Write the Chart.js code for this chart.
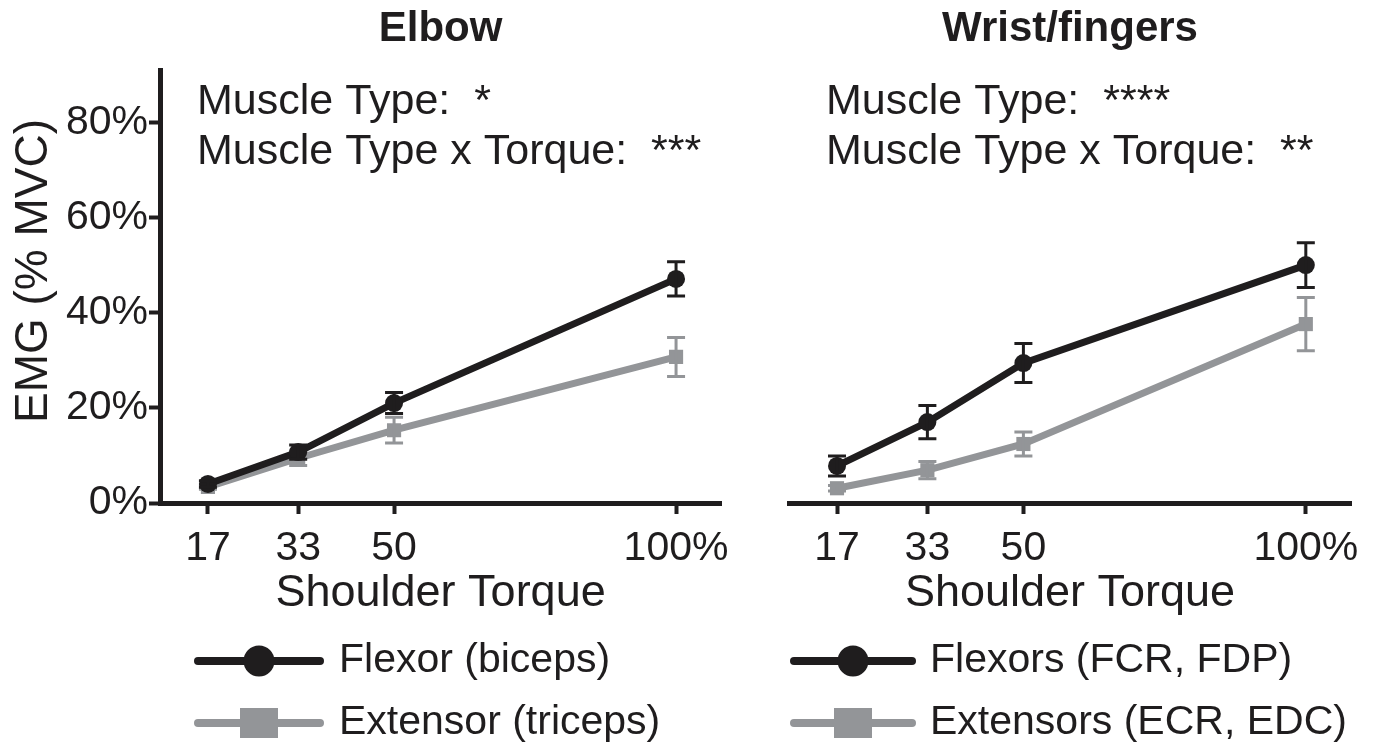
<!DOCTYPE html>
<html>
<head>
<meta charset="utf-8">
<title>EMG vs shoulder torque</title>
<script src="https://cdn.jsdelivr.net/npm/chart.js@4.4.1/dist/chart.umd.min.js"></script>
<style>
  html, body { margin: 0; padding: 0; background: #ffffff; overflow: hidden; }
  #wrap { position: relative; width: 1376px; height: 747px; }
  canvas { position: absolute; top: 0; }
  #elbow { left: 0; }
  #wrist { left: 740px; }
</style>
</head>
<body>
<div id="wrap">
  <canvas id="elbow" width="740" height="747"></canvas>
  <canvas id="wrist" width="636" height="747"></canvas>
</div>
<script>
// Shoulder torque levels (% of max) and their axis labels
const torque = [17, 33, 50, 100];
const torqueLabels = ['17', '33', '50', '100%'];
const emgTicks = [0, 20, 40, 60, 80];

// Elbow muscles: mean EMG (% MVC) and SEM
const elbowFlexor = [4.0, 10.7, 21.0, 47.1];
const elbowFlexorSem = [0.7, 1.5, 2.2, 3.6];
const elbowExtensor = [3.4, 9.4, 15.3, 30.7];
const elbowExtensorSem = [0.5, 1.5, 2.7, 4.1];

// Wrist/finger muscles: mean EMG (% MVC) and SEM
const wristFlexors = [7.8, 17.0, 29.4, 50.0];
const wristFlexorsSem = [2.1, 3.5, 4.1, 4.7];
const wristExtensors = [3.1, 6.9, 12.4, 37.6];
const wristExtensorsSem = [0.6, 1.8, 2.5, 5.6];

// Series names and statistics lines
const elbowNames = ['Flexor (biceps)', 'Extensor (triceps)'];
const wristNames = ['Flexors (FCR, FDP)', 'Extensors (ECR, EDC)'];
const elbowStats = ['Muscle Type:  *', 'Muscle Type x Torque:  ***'];
const wristStats = ['Muscle Type:  ****', 'Muscle Type x Torque:  **'];
const emgTitle = 'EMG (% MVC)';

const INK = '#1f1d1e';
const GREY = '#939598';
const FAMILY = "'Liberation Sans', Arial, Helvetica, sans-serif";
Chart.defaults.font.family = FAMILY;
Chart.defaults.color = INK;

const toPoints = vals => vals.map((v, i) => ({ x: torque[i], y: v }));

// Vertical SEM whiskers with caps, drawn right after each series
const errorBars = {
  id: 'errorBars',
  afterDatasetDraw(chart, args, opts) {
    const ds = chart.data.datasets[args.index];
    if (!ds.sem) return;
    const y = chart.scales.y;
    const ctx = chart.ctx;
    ctx.save();
    ctx.strokeStyle = ds.borderColor;
    ctx.lineWidth = opts.width;
    ctx.lineCap = 'butt';
    args.meta.data.forEach((pt, i) => {
      const v = ds.data[i].y, e = ds.sem[i];
      const yHi = y.getPixelForValue(v + e);
      const yLo = y.getPixelForValue(v - e);
      ctx.beginPath();
      ctx.moveTo(pt.x, yHi); ctx.lineTo(pt.x, yLo);
      ctx.moveTo(pt.x - opts.cap, yHi); ctx.lineTo(pt.x + opts.cap, yHi);
      ctx.moveTo(pt.x - opts.cap, yLo); ctx.lineTo(pt.x + opts.cap, yLo);
      ctx.stroke();
    });
    ctx.restore();
  }
};

// ANOVA result lines in the upper-left of each panel, plus the rotated y caption
const statsText = {
  id: 'statsText',
  afterDraw(chart, args, opts) {
    const ctx = chart.ctx;
    ctx.save();
    ctx.fillStyle = INK;
    ctx.font = opts.size + 'px ' + FAMILY;
    ctx.textAlign = 'left';
    ctx.textBaseline = 'alphabetic';
    opts.lines.forEach((t, i) => {
      ctx.fillText(t, chart.chartArea.left + opts.dx, opts.baselines[i]);
    });
    if (opts.yCaption) {
      const c = opts.yCaption;
      ctx.translate(c.x, c.y);
      ctx.rotate(-Math.PI / 2);
      ctx.font = c.size + 'px ' + FAMILY;
      ctx.textAlign = 'center';
      ctx.textBaseline = 'middle';
      ctx.fillText(c.text, 0, 0);
    }
    ctx.restore();
  }
};

// Legend below each panel: line sample with its marker, then the series name
const sampleLegend = {
  id: 'sampleLegend',
  afterDraw(chart, args, o) {
    const ctx = chart.ctx;
    chart.data.datasets.forEach((ds, i) => {
      const y = o.rows[i];
      const cx = (o.x0 + o.x1) / 2;
      ctx.save();
      ctx.strokeStyle = ds.borderColor;
      ctx.fillStyle = ds.borderColor;
      ctx.lineWidth = o.lineWidth;
      ctx.lineCap = 'round';
      ctx.beginPath();
      ctx.moveTo(o.x0, y); ctx.lineTo(o.x1, y);
      ctx.stroke();
      if (ds.pointStyle === 'rect') {
        ctx.fillRect(cx - o.rectW / 2, y - o.rectH / 2, o.rectW, o.rectH);
      } else {
        ctx.beginPath();
        ctx.arc(cx, y, o.radius, 0, Math.PI * 2);
        ctx.fill();
      }
      ctx.fillStyle = INK;
      ctx.font = o.size + 'px ' + FAMILY;
      ctx.textAlign = 'left';
      ctx.textBaseline = 'middle';
      ctx.fillText(ds.label, o.textX, y);
      ctx.restore();
    });
  }
};

function makePanel(id, cfg) {
  return new Chart(document.getElementById(id), {
    type: 'line',
    data: {
      datasets: [
        {
          label: cfg.names[0], data: toPoints(cfg.flex), sem: cfg.flexSem,
          borderColor: INK, backgroundColor: INK, borderWidth: 7,
          pointStyle: 'circle', pointRadius: 9, pointBorderWidth: 0,
          pointBackgroundColor: INK, tension: 0
        },
        {
          label: cfg.names[1], data: toPoints(cfg.ext), sem: cfg.extSem,
          borderColor: GREY, backgroundColor: GREY, borderWidth: 7,
          pointStyle: 'rect', pointRadius: 10, pointBorderWidth: 0,
          pointBackgroundColor: GREY, tension: 0
        }
      ]
    },
    options: {
      responsive: false,
      animation: false,
      events: [],
      layout: { padding: { left: cfg.padLeft, right: cfg.padRight, top: 0, bottom: 126 } },
      plugins: {
        legend: { display: false },
        tooltip: { enabled: false },
        title: {
          display: true, text: cfg.title, fullSize: false, color: INK,
          font: { size: 42, weight: 'bold', lineHeight: 1.2 },
          padding: { top: 4, bottom: 15.6 }
        },
        errorBars: { width: 3, cap: 9 },
        statsText: { lines: cfg.stats, dx: 37, baselines: [114, 164], size: 43, yCaption: cfg.yCaption },
        sampleLegend: cfg.legend
      },
      scales: {
        x: {
          type: 'linear', min: 8.5, max: 108,
          afterBuildTicks: s => { s.ticks = torque.map(v => ({ value: v })); },
          afterFit: s => { s.height = 118; },
          ticks: {
            callback: v => torqueLabels[torque.indexOf(v)],
            color: INK, font: { size: 41 }, padding: 10,
            maxRotation: 0, autoSkip: false
          },
          grid: { display: true, drawOnChartArea: false, drawTicks: true, tickLength: 11, tickWidth: 4, tickColor: INK },
          border: { display: true, color: INK, width: 5 },
          title: {
            display: true, text: 'Shoulder Torque', color: INK,
            font: { size: 45, lineHeight: 1.2 }, padding: { top: 0, bottom: 0 }
          }
        },
        y: {
          display: cfg.showY, min: 0, max: 91,
          afterBuildTicks: s => { s.ticks = emgTicks.map(v => ({ value: v })); },
          afterFit: s => { s.width = cfg.showY ? 160 : 0; },
          ticks: { callback: v => v + '%', color: INK, font: { size: 41 }, padding: 1 },
          grid: { display: true, drawOnChartArea: false, drawTicks: true, tickLength: 11, tickWidth: 4, tickColor: INK },
          border: { display: true, color: INK, width: 5 }
        }
      }
    },
    plugins: [errorBars, statsText, sampleLegend]
  });
}

makePanel('elbow', {
  title: 'Elbow', names: elbowNames, stats: elbowStats,
  flex: elbowFlexor, flexSem: elbowFlexorSem,
  ext: elbowExtensor, extSem: elbowExtensorSem,
  showY: true, padLeft: 0, padRight: 16,
  yCaption: { text: emgTitle, x: 34, y: 271, size: 46 },
  legend: { x0: 198, x1: 320, rows: [661, 723], textX: 339, lineWidth: 8, radius: 15.5, rectW: 38, rectH: 30, size: 41 }
});

makePanel('wrist', {
  title: 'Wrist/fingers', names: wristNames, stats: wristStats,
  flex: wristFlexors, flexSem: wristFlexorsSem,
  ext: wristExtensors, extSem: wristExtensorsSem,
  showY: false, padLeft: 49, padRight: 25,
  yCaption: null,
  legend: { x0: 54, x1: 172, rows: [661, 723], textX: 190, lineWidth: 8, radius: 15.5, rectW: 38, rectH: 30, size: 41 }
});
</script>
</body>
</html>
